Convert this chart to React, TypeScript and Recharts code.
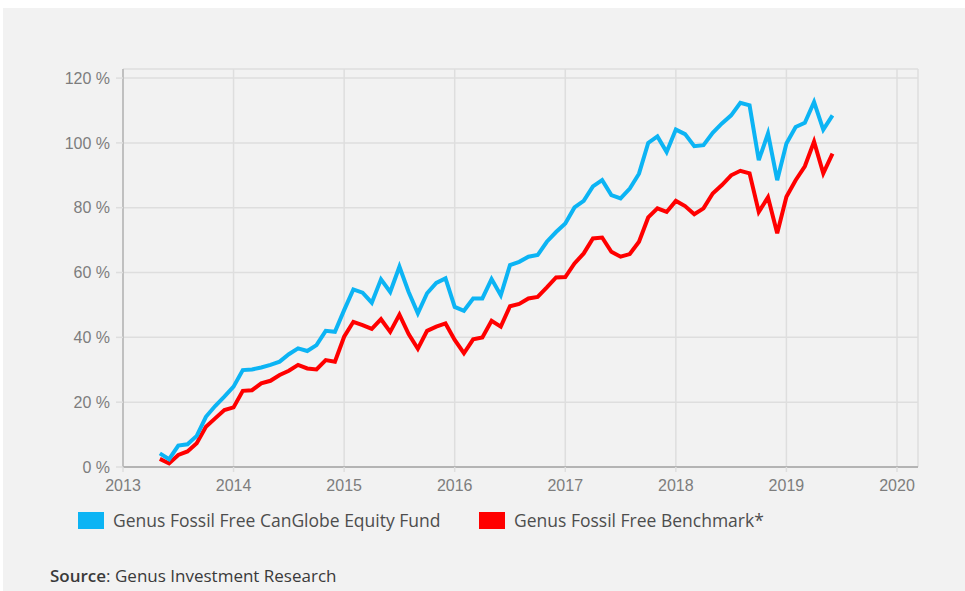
import React from 'react';
import { LineChart, CartesianGrid, XAxis, YAxis, Line } from 'recharts';

// monthly observations, April 2013 .. May 2019 (month-end)
const START_YEAR = 2013;
const START_MONTH = 4;

const fundReturns = [
  4.2, 2.4, 6.6, 7.0, 9.6, 15.5, 18.8, 21.7, 24.8, 29.9,
  30.1, 30.7, 31.5, 32.5, 34.8, 36.6, 35.8, 37.6, 42.0, 41.7,
  48.4, 54.8, 53.8, 50.7, 57.9, 54.0, 61.8, 54.0, 47.4, 53.6,
  56.8, 58.2, 49.4, 48.2, 52.0, 52.0, 58.0, 53.0, 62.3, 63.3,
  64.9, 65.4, 69.5, 72.5, 75.1, 80.1, 82.1, 86.6, 88.5, 83.9,
  82.9, 85.9, 90.5, 100.0, 102.0, 97.2, 104.1, 102.7, 99.0, 99.3,
  103.1, 106.0, 108.5, 112.4, 111.6, 94.7, 102.9, 88.5, 99.8, 104.9,
  106.2, 112.6, 104.1, 108.5,
];

const benchmarkReturns = [
  2.5, 1.1, 3.7, 4.8, 7.3, 12.4, 15.0, 17.6, 18.4, 23.5,
  23.7, 25.8, 26.6, 28.4, 29.7, 31.5, 30.4, 30.1, 33.0, 32.5,
  40.2, 44.8, 43.8, 42.6, 45.6, 41.7, 47.0, 41.0, 36.5, 42.0,
  43.3, 44.3, 39.2, 35.1, 39.4, 40.0, 45.1, 43.3, 49.6, 50.3,
  52.0, 52.5, 55.4, 58.5, 58.6, 62.8, 65.9, 70.5, 70.8, 66.4,
  64.9, 65.7, 69.5, 77.0, 79.8, 78.7, 82.1, 80.5, 78.0, 79.8,
  84.4, 87.0, 90.0, 91.4, 90.6, 78.7, 83.2, 72.1, 83.4, 88.5,
  92.8, 100.4, 90.6, 96.7,
];

const yearTicks = [2013, 2014, 2015, 2016, 2017, 2018, 2019, 2020];
const pctTicks = [0, 20, 40, 60, 80, 100, 120];

const fundName = 'Genus Fossil Free CanGlobe Equity Fund';
const benchmarkName = 'Genus Fossil Free Benchmark*';

const FUND_COLOR = '#0cb4f4';
const BENCH_COLOR = '#ff0000';
const GRID = '#dedede';
const AXIS = '#b4b4b4';
const TICK_TEXT = '#7d7d7d';
const TEXT_FONT = '"Open Sans", Lato, sans-serif';

const data = fundReturns.map((v, i) => ({
  t: START_YEAR + (START_MONTH + i) / 12,
  fund: v,
  bench: benchmarkReturns[i],
}));

const tickFont = { fontFamily: '"Liberation Sans", Arial, sans-serif', fontSize: 16, fill: TICK_TEXT };

const LegendItem = ({ color, label, left }: { color: string; label: string; left: number }) => (
  <div style={{ position: 'absolute', left, top: 500, display: 'flex', alignItems: 'center' }}>
    <div style={{ width: 26, height: 17, background: color }} />
    <span style={{ marginLeft: 9, fontSize: 17.5, color: '#4d4d4d', fontFamily: TEXT_FONT }}>{label}</span>
  </div>
);

export default function App() {
  return (
    <div
      style={{
        position: 'absolute',
        left: 3,
        top: 8,
        width: 962,
        height: 583,
        background: '#f2f2f2',
        overflow: 'hidden',
      }}
    >
      <LineChart width={962} height={583} data={data} margin={{ top: 61, right: 47, bottom: 84, left: 0 }}>
        <CartesianGrid stroke={GRID} strokeWidth={1.5} />
        <XAxis
          dataKey="t"
          type="number"
          domain={[2013, 2020.19]}
          ticks={yearTicks}
          height={40}
          stroke={AXIS}
          strokeWidth={2}
          tickLine={{ stroke: GRID, strokeWidth: 1.5 }}
          tickSize={5}
          tickMargin={8}
          tick={tickFont}
          interval={0}
        />
        <YAxis
          type="number"
          domain={[0, 122.8]}
          ticks={pctTicks}
          width={120}
          stroke={AXIS}
          strokeWidth={1.5}
          tickLine={{ stroke: GRID, strokeWidth: 1.5 }}
          tickSize={7}
          tickMargin={6}
          tick={tickFont}
          tickFormatter={(v) => `${v} %`}
          interval={0}
        />
        <Line type="linear" dataKey="bench" stroke={BENCH_COLOR} strokeWidth={4} dot={false} isAnimationActive={false} />
        <Line type="linear" dataKey="fund" stroke={FUND_COLOR} strokeWidth={4} dot={false} isAnimationActive={false} />
      </LineChart>
      <LegendItem color={FUND_COLOR} label={fundName} left={75} />
      <LegendItem color={BENCH_COLOR} label={benchmarkName} left={476} />
      <div
        style={{
          position: 'absolute',
          left: 47,
          top: 556,
          fontSize: 17,
          color: '#3a3a3a',
          fontFamily: TEXT_FONT,
        }}
      >
        <span style={{ fontWeight: 600 }}>Source</span>: Genus Investment Research
      </div>
    </div>
  );
}
